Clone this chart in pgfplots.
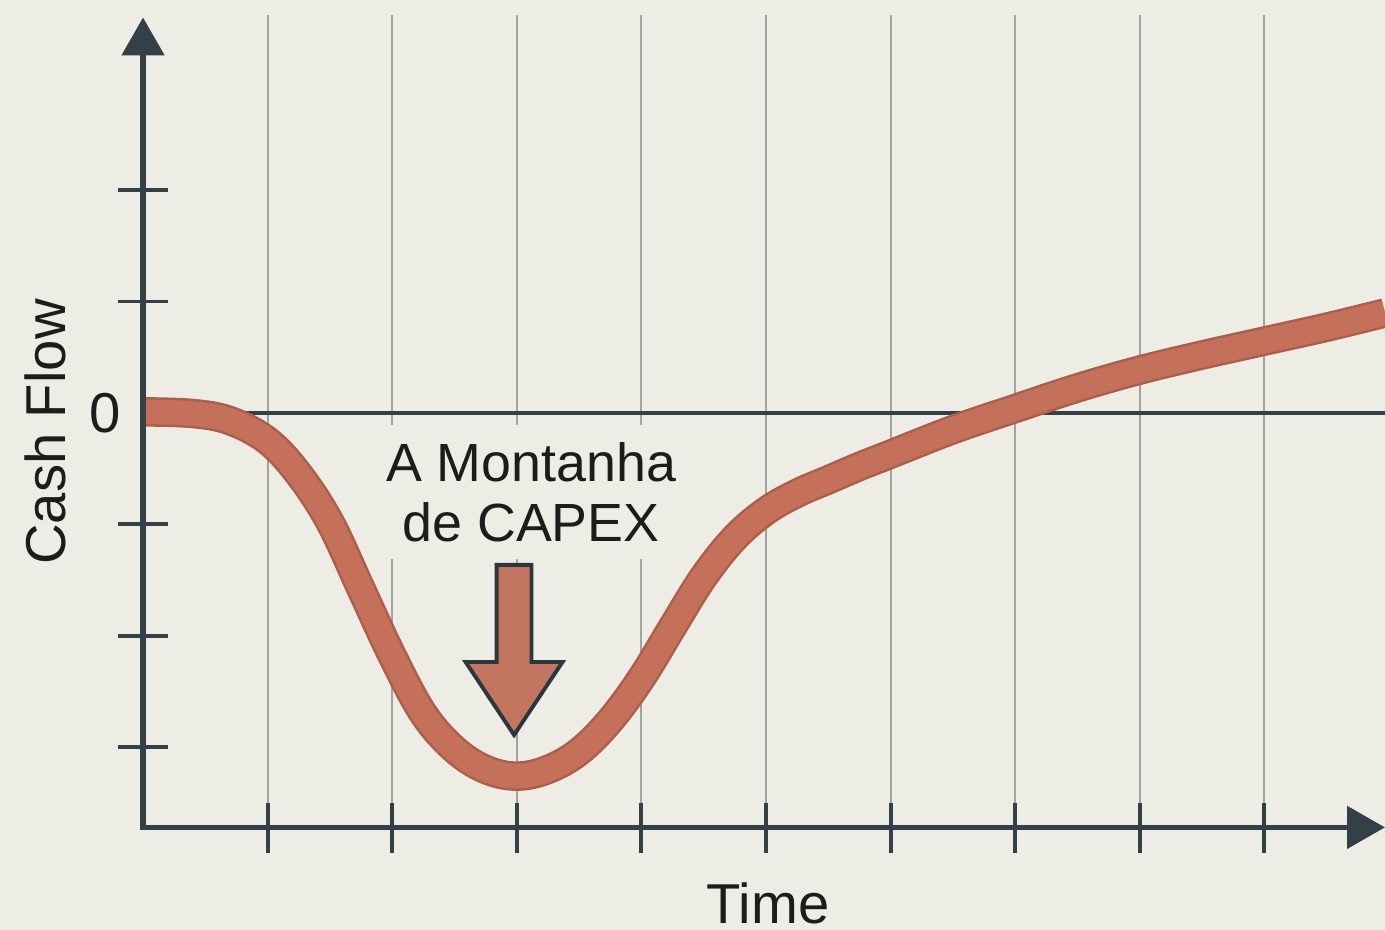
\documentclass[border=0pt]{standalone}
\usepackage{pgfplots}
\pgfplotsset{compat=1.18}
\usetikzlibrary{arrows.meta}
\usepackage{fontspec}
\setmainfont{Liberation Sans}
\definecolor{bgc}{RGB}{238,237,229}
\definecolor{axc}{RGB}{52,64,72}
\definecolor{gridc}{RGB}{160,163,160}
\definecolor{curvec}{RGB}{196,112,90}
\definecolor{curvee}{RGB}{172,94,76}
\definecolor{arrowc}{RGB}{194,118,98}
\definecolor{txtc}{RGB}{28,28,28}
\pgfplotstableread{
x y
0 0.01
0.4 -0.005
0.7 -0.07
1.0 -0.25
1.25 -0.55
1.5 -0.98
1.75 -1.58
2.0 -2.18
2.25 -2.70
2.5 -3.02
2.75 -3.20
3.0 -3.26
3.25 -3.20
3.5 -3.04
3.75 -2.76
4.0 -2.38
4.25 -1.92
4.5 -1.47
4.75 -1.12
5.0 -0.88
5.25 -0.72
5.5 -0.60
5.75 -0.48
6.0 -0.37
6.5 -0.15
7.0 0.04
7.5 0.225
8.0 0.385
8.5 0.52
9.0 0.645
9.5 0.77
9.968 0.898
}\cashflow
\begin{document}
\begin{tikzpicture}
\begin{axis}[
  hide axis,
  scale only axis,
  width=138.5mm, height=93mm,
  xmin=-1.148, xmax=9.968,
  ymin=-4.641, ymax=3.707,
]
\fill[bgc] (rel axis cs:0,0) rectangle (rel axis cs:1,1);
% vertical grid lines
\foreach \i in {1,...,9}{
  \edef\tmp{\noexpand\draw[gridc, line width=0.6pt] (axis cs:\i,-3.72) -- (axis cs:\i,3.57);}
  \tmp
}
% zero line
\draw[axc, line width=1.1pt] (axis cs:0,0) -- (axis cs:9.968,0);
% annotation text with background box
\node[fill=bgc, text=txtc, align=center, inner xsep=4pt, inner ysep=5pt,
      font=\fontsize{15.3pt}{17pt}\selectfont]
  at (axis cs:3.114,-0.709) {A Montanha\\de CAPEX};
% the cash flow curve
\addplot[curvee, line width=8.4pt, smooth, tension=0.6] table[x=x,y=y] {\cashflow};
\addplot[curvec, line width=7pt, smooth, tension=0.6] table[x=x,y=y] {\cashflow};
% block arrow
\draw[fill=arrowc, draw=axc!85!black, line width=1.1pt, line join=miter]
  (axis cs:2.838,-1.364) -- (axis cs:3.118,-1.364) -- (axis cs:3.118,-2.235)
  -- (axis cs:3.367,-2.235) -- (axis cs:2.978,-2.890) -- (axis cs:2.589,-2.235)
  -- (axis cs:2.838,-2.235) -- cycle;
% axes
\draw[axc, line width=1.5pt, line join=miter,
      {Triangle[width=4.2mm,length=3.8mm]}-{Triangle[width=4.2mm,length=3.8mm]}]
  (axis cs:0,3.55) -- (axis cs:0,-3.72) -- (axis cs:9.968,-3.72);
% y ticks
\foreach \v in {2,1,-1,-2,-3}{
  \edef\tmp{\noexpand\draw[axc, line width=1.1pt] (axis cs:-0.2,\v) -- (axis cs:0.2,\v);}
  \tmp
}
% x ticks
\foreach \i in {1,...,9}{
  \edef\tmp{\noexpand\draw[axc, line width=1.1pt] (axis cs:\i,-3.50) -- (axis cs:\i,-3.95);}
  \tmp
}
% labels
\node[text=txtc, font=\fontsize{16pt}{19pt}\selectfont] at (axis cs:-0.305,0) {0};
\node[text=txtc, font=\fontsize{16pt}{19pt}\selectfont, rotate=90] at (axis cs:-0.787,-0.171) {Cash Flow};
\node[text=txtc, inner sep=0pt, font=\fontsize{16pt}{19pt}\selectfont] at (axis cs:5.016,-4.40) {Time};
\end{axis}
\end{tikzpicture}
\end{document}
